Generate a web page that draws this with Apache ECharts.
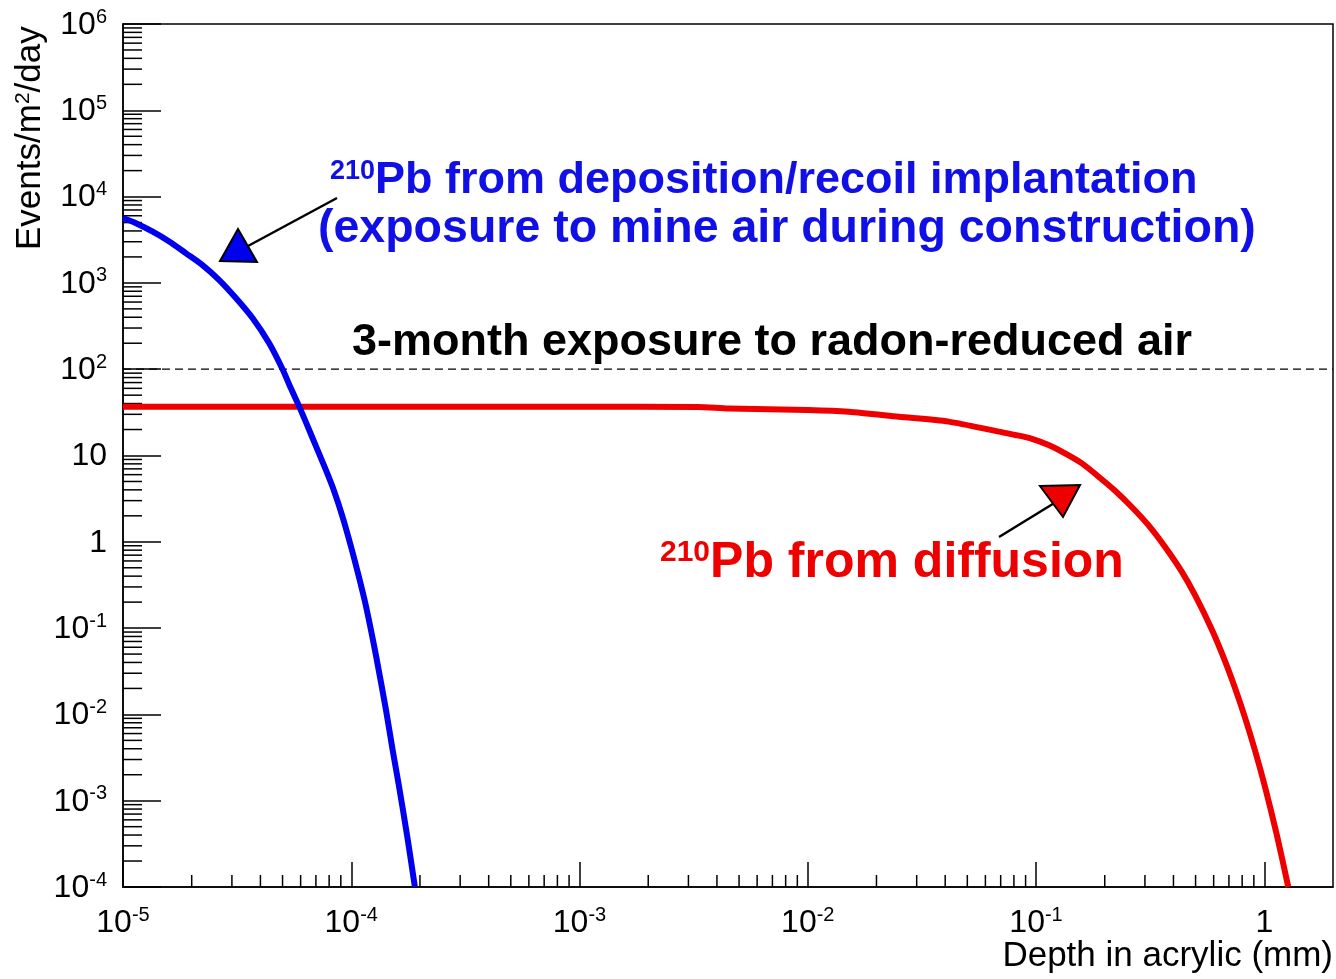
<!DOCTYPE html>
<html>
<head>
<meta charset="utf-8">
<script src="https://cdn.jsdelivr.net/npm/echarts@6/dist/echarts.min.js"></script>
<style>
html,body{margin:0;padding:0;background:#fff;}
#c{width:1336px;height:979px;}
</style>
</head>
<body>
<div id="c"></div>
<script>
// ---- data ----
const xDecades = [1e-5, 1e-4, 1e-3, 1e-2, 1e-1, 1];
const yDecades = [1e-4, 1e-3, 1e-2, 1e-1, 1, 10, 100, 1e3, 1e4, 1e5];
const xRange = [1e-5, 2];
const yRange = [1e-4, 1e6];

// 210Pb from deposition/recoil implantation (blue)
const blueDepth = [1e-5, 1.14e-5, 1.35e-5, 1.60e-5, 1.89e-5, 2.23e-5, 2.64e-5, 3.13e-5, 3.70e-5, 4.37e-5, 5.00e-5, 5.44e-5, 5.92e-5, 6.73e-5, 7.74e-5, 8.43e-5, 9.16e-5, 9.98e-5, 1.08e-4, 1.16e-4, 1.28e-4, 1.42e-4, 1.52e-4, 1.62e-4, 1.76e-4, 1.90e-4];
const blueRate  = [5650, 4920, 3920, 3000, 2200, 1610, 1080, 664, 389, 200, 100, 60, 36.8, 16.5, 6.8, 3.81, 1.95, 0.877, 0.394, 0.18, 0.05, 0.0112, 0.0038, 0.00145, 3.83e-4, 1e-4];

// 210Pb from diffusion (red)
const redDepth = [1e-5, 1e-4, 1e-3, 3.3e-3, 4.5e-3, 1e-2, 1.51e-2, 2.51e-2, 4.14e-2, 6.86e-2, 8.11e-2, 9.6e-2, 0.1135, 0.134, 0.159, 0.188, 0.222, 0.262, 0.310, 0.367, 0.435, 0.498, 0.589, 0.671, 0.745, 0.822, 0.912, 1.005, 1.135, 1.274];
const redRate  = [36.7, 36.7, 36.7, 36.5, 35.0, 33.6, 32.1, 28.1, 24.7, 18.9, 17.3, 15.6, 13.2, 10.6, 8.1, 5.68, 3.91, 2.55, 1.57, 0.877, 0.451, 0.239, 0.0962, 0.0423, 0.0201, 0.0093, 0.00377, 0.00148, 4.0e-4, 1e-4];

// 3-month exposure to radon-reduced air level
const radonLevel = 100;

// ---- helpers ----
const FONT = "'Liberation Sans', Arial, Helvetica, sans-serif";
const minorMult = [2, 3, 4, 5, 6, 7, 8, 9];
function minorsOf(decades, lo, hi) {
  const out = [];
  decades.forEach(d => minorMult.forEach(m => { const v = d * m; if (v > lo && v < hi) out.push(v); }));
  return out;
}
const xMinor = minorsOf(xDecades, xRange[0], xRange[1]);
const yMinor = minorsOf(yDecades, yRange[0], yRange[1]);

function powLabel(v) {
  const e = Math.round(Math.log10(v));
  if (Math.abs(Math.log10(v) - e) > 1e-6) return '';
  if (e === 0) return '{b|1}';
  if (e === 1) return '{b|10}';
  return '{b|10}{s|' + e + '}';
}
const labelRich = {
  b: { fontSize: 32, fontFamily: FONT, color: '#000', verticalAlign: 'bottom', lineHeight: 34 },
  s: { fontSize: 20, fontFamily: FONT, color: '#000', verticalAlign: 'top', lineHeight: 20 }
};

const chart = echarts.init(document.getElementById('c'), null, { renderer: 'canvas' });
const option = {
  backgroundColor: '#fff',
  animation: false,
  grid: { left: 123, right: 3, top: 24, bottom: 92, show: true, borderColor: '#000', borderWidth: 1.5, backgroundColor: '#fff' },
  xAxis: {
    type: 'log', logBase: 10, min: xRange[0], max: xRange[1], interval: 1,
    axisLine: { lineStyle: { color: '#000', width: 1.5 } },
    axisTick: { inside: true, length: 25, lineStyle: { color: '#000', width: 1.5 } },
    splitLine: { show: false },
    axisLabel: { formatter: powLabel, rich: labelRich, margin: 18, showMaxLabel: false }
  },
  yAxis: {
    type: 'log', logBase: 10, min: yRange[0], max: yRange[1], interval: 1,
    axisLine: { lineStyle: { color: '#000', width: 1.5 } },
    axisTick: { inside: true, length: 38, lineStyle: { color: '#000', width: 1.5 } },
    splitLine: { show: false },
    axisLabel: { formatter: powLabel, rich: labelRich, margin: 16 }
  },
  series: [
    {
      type: 'custom', silent: true, z: 1,
      data: xMinor.map(v => [v, yRange[0]]),
      encode: { x: 0, y: 1 },
      renderItem: function (params, api) {
        const p = api.coord([api.value(0), api.value(1)]);
        return { type: 'line', shape: { x1: p[0], y1: p[1], x2: p[0], y2: p[1] - 12 }, style: { stroke: '#000', lineWidth: 1.5 } };
      }
    },
    {
      type: 'custom', silent: true, z: 1,
      data: yMinor.map(v => [xRange[0], v]),
      encode: { x: 0, y: 1 },
      renderItem: function (params, api) {
        const p = api.coord([api.value(0), api.value(1)]);
        return { type: 'line', shape: { x1: p[0], y1: p[1], x2: p[0] + 19, y2: p[1] }, style: { stroke: '#000', lineWidth: 1.5 } };
      }
    },
    {
      type: 'line', name: 'radon-reduced air', symbol: 'none', silent: true, z: 2,
      data: [[xRange[0], radonLevel], [xRange[1], radonLevel]],
      lineStyle: { color: '#000', width: 1.2, type: [8, 5] }
    },
    {
      type: 'line', name: 'diffusion', symbol: 'none', smooth: 0.25, z: 3,
      data: redDepth.map((x, i) => [x, redRate[i]]),
      lineStyle: { color: '#ee0000', width: 6, join: 'round', cap: 'butt' }
    },
    {
      type: 'line', name: 'deposition', symbol: 'none', smooth: 0.25, z: 4,
      data: blueDepth.map((x, i) => [x, blueRate[i]]),
      lineStyle: { color: '#0000ee', width: 6, join: 'round', cap: 'butt' }
    }
  ],
  graphic: [
    // y axis title
    { type: 'text', x: 13, y: 250, rotation: Math.PI / 2,
      style: { text: 'Events/m{s|2}/day', font: '35px ' + FONT, fill: '#000', align: 'left', verticalAlign: 'top',
        rich: { s: { fontSize: 21, fontFamily: FONT, verticalAlign: 'top' } } } },
    // x axis title
    { type: 'text', x: 1333, y: 939,
      style: { text: 'Depth in acrylic (mm)', font: '35px ' + FONT, fill: '#000', align: 'right', verticalAlign: 'top' } },
    // blue annotation
    { type: 'text', left: 330, top: 158, z: 10,
      style: { text: '{s|210}{m|Pb from deposition/recoil implantation}', fill: '#1010e6',
        rich: { s: { fontSize: 27, fontWeight: 'bold', fontFamily: FONT, fill: '#1010e6', verticalAlign: 'top' },
                m: { fontSize: 45, fontWeight: 'bold', fontFamily: FONT, fill: '#1010e6', verticalAlign: 'bottom' } } } },
    { type: 'text', left: 318, top: 206, z: 10,
      style: { text: '(exposure to mine air during construction)', font: 'bold 46.5px ' + FONT, fill: '#1010e6' } },
    // black annotation
    { type: 'text', left: 352, top: 320, z: 10,
      style: { text: '3-month exposure to radon-reduced air', font: 'bold 45px ' + FONT, fill: '#000' } },
    // red annotation
    { type: 'text', left: 660, top: 538, z: 10,
      style: { text: '{s|210}{m|Pb from diffusion}', fill: '#ee0000',
        rich: { s: { fontSize: 30, fontWeight: 'bold', fontFamily: FONT, fill: '#ee0000', verticalAlign: 'top' },
                m: { fontSize: 50, fontWeight: 'bold', fontFamily: FONT, fill: '#ee0000', verticalAlign: 'bottom' } } } },
    // blue arrow
    { type: 'line', z: 9, shape: { x1: 337, y1: 198, x2: 248, y2: 246 }, style: { stroke: '#000', lineWidth: 2.5 } },
    { type: 'polygon', z: 10, shape: { points: [[238, 229], [220, 261], [257, 262]] }, style: { fill: '#0000ee', stroke: '#000', lineWidth: 2 } },
    // red arrow
    { type: 'line', z: 9, shape: { x1: 999, y1: 537, x2: 1056, y2: 502 }, style: { stroke: '#000', lineWidth: 2.5 } },
    { type: 'polygon', z: 10, shape: { points: [[1040, 486], [1080, 485], [1063, 517]] }, style: { fill: '#ee0000', stroke: '#000', lineWidth: 2 } }
  ]
};
chart.setOption(option);
</script>
</body>
</html>
